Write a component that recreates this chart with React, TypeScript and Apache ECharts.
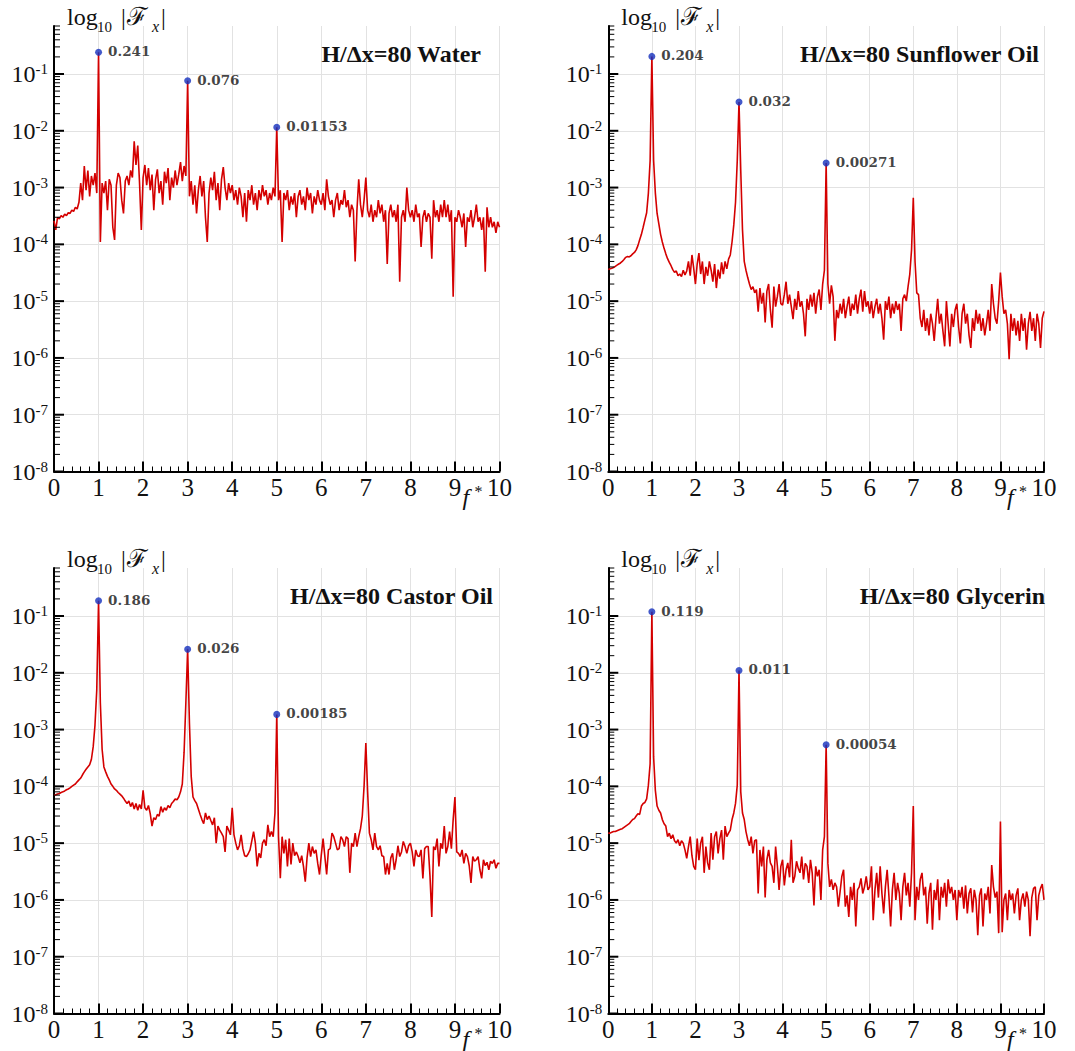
import React, { useEffect, useRef } from 'react';
import * as echarts from 'echarts';

// Spectra sampled every FREQ_STEP in f*, from 0 to 10 (251 samples each, 25 per unit row)
const FREQ_STEP = 0.04;

const WATER = [
  2.6e-4, 1.8e-4, 3e-4, 2.8e-4, 3.2e-4, 3e-4, 3.4e-4, 3.2e-4, 3.6e-4, 3.5e-4, 4e-4, 3.8e-4, 4.5e-4, 4.2e-4, 5.5e-4, 1.2e-3, 6e-4, 2.4e-3, 9e-4, 2e-3, 7e-4, 1.6e-3, 1.1e-3, 1.8e-3, 8e-4,
  0.241, 1.1e-4, 1.2e-3, 8e-4, 1.3e-3, 4e-4, 1.4e-3, 1.1e-3, 2e-4, 1.2e-4, 1.1e-3, 1.8e-3, 1.5e-3, 6e-4, 3.5e-4, 1.3e-3, 1.6e-3, 1.1e-3, 2e-3, 1.5e-3, 6.5e-3, 2.5e-3, 5.5e-3, 1.2e-3, 1.8e-4,
  1.5e-3, 2.5e-3, 1.1e-3, 2.2e-3, 9e-4, 1.7e-3, 4e-4, 1.4e-3, 2.1e-3, 8e-4, 1.3e-3, 5e-4, 1.9e-3, 1.2e-3, 2.2e-3, 6e-4, 1.5e-3, 1e-3, 2e-3, 1.1e-3, 1.7e-3, 2.8e-3, 1.3e-3, 2.4e-3, 1.6e-3,
  0.076, 7e-4, 1.3e-3, 5e-4, 1.1e-3, 3.5e-4, 9e-4, 1.6e-3, 7e-4, 1.3e-3, 3e-4, 1.1e-4, 8e-4, 1.5e-3, 9e-4, 1.9e-3, 6e-4, 1.2e-3, 4e-4, 1.4e-3, 2.3e-3, 1e-3, 6e-4, 1.2e-3, 8e-4,
  1.1e-3, 6e-4, 9e-4, 5e-4, 1e-3, 7e-4, 3e-4, 8e-4, 2.5e-4, 9e-4, 6e-4, 1.1e-3, 5e-4, 8e-4, 4e-4, 9e-4, 6e-4, 1.1e-3, 7e-4, 9e-4, 5e-4, 8e-4, 6e-4, 1e-3, 7e-4,
  0.01153, 6e-4, 9e-4, 1.1e-4, 8e-4, 6e-4, 9e-4, 4e-4, 7e-4, 5e-4, 8e-4, 3e-4, 7e-4, 9e-4, 5e-4, 7e-4, 4e-4, 1e-3, 6e-4, 8e-4, 3.5e-4, 7e-4, 5e-4, 9e-4, 6e-4,
  5e-4, 8e-4, 4e-4, 1.4e-3, 7e-4, 5e-4, 6e-4, 3e-4, 6e-4, 8e-4, 4e-4, 6e-4, 5e-4, 9e-4, 4.5e-4, 6e-4, 3e-4, 5e-4, 4e-4, 5e-5, 4e-4, 1.4e-3, 5e-4, 3e-4, 6e-4,
  1.5e-3, 4e-4, 3e-4, 5e-4, 2.5e-4, 4e-4, 3e-4, 6e-4, 3.5e-4, 5e-4, 2.5e-4, 4e-4, 4.5e-5, 3.5e-4, 5e-4, 3e-4, 4e-4, 2.5e-4, 5e-4, 2.2e-5, 3e-4, 4e-4, 2.5e-4, 1e-3, 4e-4,
  3e-4, 4e-4, 2.5e-4, 5e-4, 3e-4, 3.5e-4, 9e-5, 3e-4, 4e-4, 2.5e-4, 3.5e-4, 3e-4, 5.6e-5, 6e-4, 3e-4, 4e-4, 2.5e-4, 5e-4, 3e-4, 6e-4, 3e-4, 5e-4, 2.5e-4, 4e-4, 1.2e-5,
  3e-4, 2.5e-4, 4e-4, 3e-4, 2e-4, 3.5e-4, 9e-5, 3e-4, 2.5e-4, 4e-4, 2e-4, 3e-4, 5e-4, 2.5e-4, 3e-4, 1.8e-4, 3e-4, 3.3e-5, 4.5e-4, 2e-4, 3e-4, 2e-4, 2.5e-4, 1.6e-4, 2.5e-4,
  2e-4,
];

const SUNFLOWER = [
  3.6e-5, 3.7e-5, 3.8e-5, 3.9e-5, 4.1e-5, 4.3e-5, 4.5e-5, 4.7e-5, 5e-5, 5.4e-5, 5.9e-5, 6.1e-5, 6e-5, 6.3e-5, 6.8e-5, 7.2e-5, 8e-5, 9.5e-5, 1.2e-4, 1.5e-4, 2e-4, 2.7e-4, 3.6e-4, 8e-4, 3e-3,
  0.204, 3e-3, 8e-4, 3.5e-4, 2.3e-4, 1.5e-4, 1.1e-4, 8.5e-5, 6.8e-5, 5.6e-5, 4.8e-5, 4.2e-5, 3.6e-5, 3.2e-5, 3.4e-5, 2.8e-5, 3e-5, 2.7e-5, 3.5e-5, 2.9e-5, 3.4e-5, 5e-5, 2.8e-5, 6.5e-5, 3.8e-5,
  2e-5, 4.5e-5, 7e-5, 3e-5, 5e-5, 2e-5, 4e-5, 2.8e-5, 5e-5, 3.5e-5, 2.2e-5, 4.5e-5, 1.7e-5, 3.6e-5, 2.5e-5, 4.8e-5, 3e-5, 5e-5, 3.7e-5, 5.5e-5, 6.5e-5, 1.1e-4, 2.2e-4, 5.5e-4, 3e-3,
  0.032, 2e-3, 1.8e-4, 5e-5, 3.5e-5, 2.6e-5, 2e-5, 1.6e-5, 1.8e-5, 1.4e-5, 1.6e-5, 6.5e-6, 1.7e-5, 9e-6, 1.4e-5, 4.2e-6, 1.5e-5, 2e-5, 7e-6, 3.4e-6, 1.8e-5, 8e-6, 1.2e-5, 2e-5, 9e-6,
  8.5e-6, 1.3e-5, 2.2e-5, 9e-6, 1.3e-5, 8e-6, 4.8e-6, 1.1e-5, 7e-6, 1.5e-5, 8e-6, 1e-5, 6e-6, 2.4e-6, 1.1e-5, 7e-6, 1.3e-5, 8e-6, 1.4e-5, 6e-6, 1.2e-5, 1.6e-5, 7e-6, 2e-5, 3.5e-5,
  0.00271, 2e-5, 9e-6, 1.9e-5, 1.2e-5, 2e-6, 7e-6, 5e-6, 9e-6, 6e-6, 1.1e-5, 5e-6, 8e-6, 1.2e-5, 5.5e-6, 9e-6, 7e-6, 1.3e-5, 6e-6, 1.1e-5, 1.6e-5, 6.5e-6, 1.5e-5, 8e-6, 1e-5,
  6e-6, 1e-5, 5e-6, 8e-6, 1.1e-5, 6e-6, 9e-6, 5e-6, 2.1e-6, 1e-5, 7e-6, 1.2e-5, 5e-6, 9e-6, 6e-6, 1e-5, 7e-6, 9e-6, 3e-6, 1.1e-5, 1.3e-5, 1e-5, 1.8e-5, 3e-5, 8e-5,
  6.6e-4, 5e-5, 1.4e-5, 1.3e-5, 5e-6, 3.5e-6, 7e-6, 3e-6, 5e-6, 2.5e-6, 6e-6, 4e-6, 2e-6, 5e-6, 1.1e-5, 4e-6, 6e-6, 3e-6, 1.6e-6, 1e-5, 4e-6, 1.6e-6, 6e-6, 3.5e-6, 7e-6,
  9e-6, 3.5e-6, 1.8e-6, 6e-6, 9e-6, 4e-6, 6e-6, 2.5e-6, 1.5e-6, 5e-6, 3e-6, 7e-6, 4e-6, 6e-6, 3e-6, 5e-6, 2.5e-6, 4e-6, 7e-6, 3e-6, 2e-5, 9e-6, 5e-6, 4e-6, 1e-5,
  3.2e-5, 1.2e-5, 6e-6, 7e-6, 4e-6, 9.5e-7, 6e-6, 3e-6, 5e-6, 2.5e-6, 4.5e-6, 2e-6, 6e-6, 3e-6, 5e-6, 1.4e-6, 4e-6, 6.5e-6, 3e-6, 5e-6, 2e-6, 6e-6, 4e-6, 1.5e-6, 5e-6,
  6.6e-6,
];

const CASTOR = [
  7e-5, 7.1e-5, 7.3e-5, 7.5e-5, 7.8e-5, 8e-5, 8.3e-5, 8.7e-5, 9e-5, 9.4e-5, 1e-4, 1.05e-4, 1.1e-4, 1.2e-4, 1.3e-4, 1.4e-4, 1.6e-4, 1.8e-4, 2e-4, 2.2e-4, 2.4e-4, 3e-4, 5e-4, 1.2e-3, 5e-3,
  0.186, 3e-3, 4.5e-4, 2.2e-4, 1.8e-4, 1.5e-4, 1.3e-4, 1.1e-4, 1e-4, 9e-5, 8.5e-5, 7.8e-5, 7.3e-5, 6.8e-5, 6.2e-5, 5.5e-5, 5e-5, 5.5e-5, 4.4e-5, 5.2e-5, 4e-5, 5e-5, 3.8e-5, 4.8e-5, 4e-5,
  8.5e-5, 4.2e-5, 3.8e-5, 4.6e-5, 3.3e-5, 2e-5, 2.8e-5, 2.6e-5, 3.2e-5, 3e-5, 4.4e-5, 3.5e-5, 4.2e-5, 3.8e-5, 4.6e-5, 4.2e-5, 5e-5, 5.4e-5, 6e-5, 5.8e-5, 6.5e-5, 8e-5, 1.1e-4, 4e-4, 3e-3,
  0.026, 1.3e-3, 1.5e-4, 6.5e-5, 5.6e-5, 5e-5, 4e-5, 3.2e-5, 2.6e-5, 2.2e-5, 3.4e-5, 2.6e-5, 3e-5, 2.5e-5, 2.1e-5, 2.8e-5, 1e-5, 2e-5, 1.7e-5, 1.5e-5, 1.3e-5, 7e-6, 2e-5, 1.7e-5, 1.4e-5,
  4.2e-5, 1.4e-5, 1e-5, 7.6e-6, 9e-6, 1.4e-5, 8e-6, 6e-6, 5.8e-6, 6.5e-6, 7.6e-6, 1.1e-5, 1.6e-5, 1e-5, 3.9e-6, 6.6e-6, 5.5e-6, 1e-5, 1.15e-5, 9e-6, 2.1e-5, 1.3e-5, 1.6e-5, 1.3e-5, 3.4e-5,
  0.00185, 1.3e-5, 2.4e-6, 1.3e-5, 6.6e-6, 1.15e-5, 3.9e-6, 1.2e-5, 4.2e-6, 1e-5, 6e-6, 7e-6, 5.8e-6, 4.5e-6, 6e-6, 3.9e-6, 2.1e-6, 5.5e-6, 1e-5, 5.8e-6, 8.7e-6, 6.6e-6, 7.6e-6, 4.4e-6, 2.8e-6,
  6.2e-6, 1.2e-5, 5.8e-6, 2.8e-6, 7.6e-6, 8e-6, 1.5e-5, 1.3e-5, 1e-5, 7.6e-6, 8e-6, 1.3e-5, 1.15e-5, 8.7e-6, 1.3e-5, 1.2e-5, 3e-6, 1e-5, 8.7e-6, 1.5e-5, 8.7e-6, 1.3e-5, 1.8e-5, 3e-5, 1e-4,
  5.8e-4, 8e-5, 1.5e-5, 1.15e-5, 7.6e-6, 1.5e-5, 8.7e-6, 7.6e-6, 9e-6, 6e-6, 5.8e-6, 2.8e-6, 4.4e-6, 2.8e-6, 5.5e-6, 6.6e-6, 3.4e-6, 5.1e-6, 9e-6, 5.8e-6, 7e-6, 1.07e-5, 8.7e-6, 6.6e-6, 9e-6,
  1e-5, 7e-6, 3.9e-6, 7.6e-6, 6e-6, 5.8e-6, 7.6e-6, 2.4e-6, 8e-6, 8.7e-6, 8.7e-6, 2.6e-6, 5e-7, 8.7e-6, 7.6e-6, 1.2e-5, 3.9e-6, 1e-5, 8e-6, 2e-5, 6.6e-6, 8.7e-6, 1.6e-5, 8e-6, 2.6e-5,
  6.5e-5, 7e-6, 6.6e-6, 5.8e-6, 7.6e-6, 4.4e-6, 6.6e-6, 5.8e-6, 4e-6, 2e-6, 5.8e-6, 4.8e-6, 5.1e-6, 5.8e-6, 3.4e-6, 2.4e-6, 5.1e-6, 4e-6, 4.6e-6, 3.4e-6, 4.8e-6, 4.4e-6, 5.1e-6, 3.6e-6, 4.4e-6,
  4.4e-6,
];

const GLYCERIN = [
  1.5e-5, 1.5e-5, 1.55e-5, 1.6e-5, 1.6e-5, 1.65e-5, 1.7e-5, 1.75e-5, 1.8e-5, 1.9e-5, 2e-5, 2.1e-5, 2.2e-5, 2.4e-5, 2.6e-5, 2.7e-5, 3e-5, 3.3e-5, 3.2e-5, 4.5e-5, 5e-5, 5.2e-5, 6e-5, 1.05e-4, 2.5e-4,
  0.119, 3.3e-4, 8.5e-5, 4.5e-5, 3.8e-5, 3.4e-5, 2.6e-5, 2.2e-5, 2e-5, 1.3e-5, 1.5e-5, 1.2e-5, 1.4e-5, 1.1e-5, 1e-5, 1.15e-5, 9e-6, 1.1e-5, 1e-5, 7.6e-6, 5.4e-6, 8.7e-6, 1.3e-5, 6e-6, 3.9e-6,
  3.4e-6, 1.2e-5, 5e-6, 1e-5, 1.3e-5, 3e-6, 8.7e-6, 4.5e-6, 3.4e-6, 1.5e-5, 5.1e-6, 1.3e-5, 1.6e-5, 6.6e-6, 1.2e-5, 1.7e-5, 5.1e-6, 2e-5, 1.3e-5, 1.5e-5, 1.7e-5, 2.6e-5, 3.4e-5, 5e-5, 1.05e-4,
  0.011, 8e-5, 3.4e-5, 2.6e-5, 1.6e-5, 1.15e-5, 9e-6, 1.3e-5, 6.6e-6, 1.1e-5, 1.15e-5, 1.3e-6, 7.6e-6, 3.9e-6, 8.7e-6, 1.1e-6, 5.1e-6, 7.6e-6, 4.5e-6, 3.9e-6, 2e-6, 8.7e-6, 4e-6, 1.5e-6, 3.9e-6,
  5.1e-6, 1.8e-6, 3.4e-6, 4.5e-6, 2.5e-6, 1.15e-5, 2e-6, 2.6e-6, 4.8e-6, 3.6e-6, 3e-6, 5.8e-6, 2.3e-6, 4.4e-6, 3.9e-6, 2e-6, 5.1e-6, 3e-6, 8e-7, 3.9e-6, 2.6e-6, 3.4e-6, 1e-6, 7.6e-6, 1.3e-5,
  0.00054, 4.4e-6, 1.7e-6, 2.3e-6, 1.5e-6, 2e-6, 1.7e-6, 7.6e-7, 1.4e-6, 2.6e-6, 3.4e-6, 7.6e-7, 1.2e-6, 5e-7, 1.7e-6, 1e-6, 2e-6, 3.4e-7, 1.5e-6, 1.7e-6, 2.4e-6, 1.3e-6, 1.7e-6, 2.6e-6, 1.5e-6,
  1.7e-6, 3.9e-6, 4.4e-7, 1.5e-6, 3e-6, 1.1e-6, 3.9e-6, 1.3e-6, 5.8e-7, 1.7e-6, 3.4e-6, 1.2e-6, 3.4e-7, 1.5e-6, 3e-6, 1e-6, 2e-6, 1.3e-6, 4.4e-7, 1.7e-6, 3e-6, 1.2e-6, 2e-6, 7.6e-7, 3e-6,
  4.5e-5, 4.4e-7, 1.7e-6, 1e-6, 2.3e-6, 3e-6, 1.2e-6, 1.7e-6, 3.8e-7, 1.3e-6, 2e-6, 3e-7, 1.5e-6, 1e-6, 2.3e-6, 4.4e-7, 1.7e-6, 1.1e-6, 2e-6, 7.6e-7, 2.3e-6, 1.3e-6, 1.7e-6, 1e-6, 1.5e-6,
  4.4e-7, 1.5e-6, 1.1e-6, 1.7e-6, 7e-7, 1.8e-6, 5.8e-7, 1.3e-6, 1.6e-6, 6e-7, 1.5e-6, 1e-6, 2.4e-7, 1.2e-6, 1.6e-6, 3.4e-7, 1.3e-6, 1e-6, 1.7e-6, 5.8e-7, 4.1e-6, 1.7e-6, 1.1e-6, 1.4e-6, 2.6e-7,
  2.4e-5, 2.7e-7, 1e-6, 1.3e-6, 4.4e-7, 1.5e-6, 1e-6, 1.3e-6, 5.8e-7, 1.2e-6, 1.6e-6, 4.4e-7, 1e-6, 1.3e-6, 7.6e-7, 1.4e-6, 1e-6, 2.3e-7, 1.1e-6, 1.6e-6, 1.7e-6, 4.4e-7, 1.2e-6, 1.6e-6, 1.9e-6,
  1e-6,
];

// Labelled peaks (f* = 1, 3, 5)
const PEAK_X = [1, 3, 5];
const WATER_PEAKS = [0.241, 0.076, 0.01153];
const SUNFLOWER_PEAKS = [0.204, 0.032, 0.00271];
const CASTOR_PEAKS = [0.186, 0.026, 0.00185];
const GLYCERIN_PEAKS = [0.119, 0.011, 0.00054];

const TITLES = ['H/Δx=80 Water', 'H/Δx=80 Sunflower Oil', 'H/Δx=80 Castor Oil', 'H/Δx=80 Glycerin'];

// Axes
const X_MIN = 0;
const X_MAX = 10;
const X_INTERVAL = 1;
const Y_MIN = 1e-8;
const Y_MAX = 0.7;
const Y_DECADE_EXPONENTS = [-8, -7, -6, -5, -4, -3, -2, -1];
const Y_MINOR_MULTIPLIERS = [2, 3, 4, 5, 6, 7, 8, 9];

// Layout (pixels)
const LAYOUT = [
  { left: 54, top: 26, width: 445.5, height: 445.5, titleRight: 481, titleY: 54 },
  { left: 608.3, top: 26, width: 435.7, height: 445.5, titleRight: 1039, titleY: 54 },
  { left: 54, top: 568, width: 445.5, height: 445.5, titleRight: 493, titleY: 596 },
  { left: 608.3, top: 568, width: 435.7, height: 445.5, titleRight: 1045, titleY: 596 },
];

const SPECTRA = [WATER, SUNFLOWER, CASTOR, GLYCERIN];
const PEAKS = [WATER_PEAKS, SUNFLOWER_PEAKS, CASTOR_PEAKS, GLYCERIN_PEAKS];

const SERIF = '"Liberation Serif", "Times New Roman", serif';
const RED = '#d40000';
const BLUE = '#1430bd';
const INK = '#111111';

function yLabel(v: number): string {
  const lg = Math.log10(v);
  const e = Math.round(lg);
  if (Math.abs(lg - e) > 1e-6) return '';
  return `{b|10}{e|${e}}`;
}

export default function App() {
  const ref = useRef<HTMLDivElement>(null);

  useEffect(() => {
    if (!ref.current) return;
    const chart = echarts.init(ref.current, null, { renderer: 'svg' });

    const grids = LAYOUT.map((l) => ({ left: l.left, top: l.top, width: l.width, height: l.height, containLabel: false }));

    const xAxes = LAYOUT.map((_, i) => ({
      type: 'value',
      gridIndex: i,
      min: X_MIN,
      max: X_MAX,
      interval: X_INTERVAL,
      axisLine: { show: true, onZero: false, lineStyle: { color: '#000', width: 2 } },
      axisTick: { show: true, inside: true, length: 10, lineStyle: { color: '#000', width: 2 } },
      minorTick: { show: true, splitNumber: 5, length: 5, lineStyle: { color: '#000', width: 1 } },
      axisLabel: { show: true, margin: 3, fontFamily: SERIF, fontSize: 25, color: INK },
      splitLine: { show: true, lineStyle: { color: '#e2e2e2', width: 1 } },
    }));

    const yAxes = LAYOUT.map((_, i) => ({
      type: 'log',
      logBase: 10,
      gridIndex: i,
      min: Y_MIN,
      max: Y_MAX,
      splitNumber: 8,
      axisLine: { show: true, onZero: false, lineStyle: { color: '#000', width: 2 } },
      axisTick: { show: false },
      axisLabel: {
        show: true,
        margin: 6,
        showMaxLabel: false,
        formatter: yLabel,
        rich: {
          b: { fontFamily: SERIF, fontSize: 24, lineHeight: 24, color: INK },
          e: { fontFamily: SERIF, fontSize: 15, lineHeight: 15, color: INK, padding: [0, 0, 10, 0] },
        },
      },
      splitLine: { show: true, showMaxLine: false, lineStyle: { color: '#e2e2e2', width: 1 } },
    }));

    const series: any[] = [];
    SPECTRA.forEach((values, i) => {
      series.push({
        type: 'line',
        xAxisIndex: i,
        yAxisIndex: i,
        data: values.map((v, k) => [Number((k * FREQ_STEP).toFixed(2)), v]),
        showSymbol: false,
        symbol: 'none',
        lineStyle: { color: RED, width: 1.6 },
        z: 2,
      });
      series.push({
        type: 'scatter',
        xAxisIndex: i,
        yAxisIndex: i,
        data: PEAK_X.map((x, j) => [x, PEAKS[i][j]]),
        symbol: 'circle',
        symbolSize: 7,
        itemStyle: { color: BLUE },
        z: 5,
        label: {
          show: true,
          position: 'right',
          distance: 6,
          offset: [0, -1],
          formatter: (p: any) => String(p.value[1]),
          fontFamily: '"DejaVu Serif", serif',
          fontWeight: 'bold',
          fontSize: 13.5,
          color: INK,
        },
      });
    });

    chart.setOption({
      animation: false,
      backgroundColor: '#ffffff',
      grid: grids,
      xAxis: xAxes,
      yAxis: yAxes,
      series,
    });

    // Graphic overlay: log-axis ticks, axis names, titles (positions from the library's scales)
    const graphics: any[] = [];
    LAYOUT.forEach((l, i) => {
      const toPx = (x: number, y: number) => chart.convertToPixel({ gridIndex: i }, [x, y]) as number[];
      const [ax, axisBottom] = toPx(X_MIN, Y_MIN);
      const [xEnd] = toPx(X_MAX, Y_MIN);
      const [, yTop] = toPx(X_MIN, Y_MAX);

      Y_DECADE_EXPONENTS.forEach((e) => {
        const [, py] = toPx(X_MIN, Math.pow(10, e));
        graphics.push({
          type: 'line', silent: true, z: 100,
          shape: { x1: ax, y1: py, x2: ax + 10, y2: py },
          style: { stroke: '#000', lineWidth: 2 },
        });
        Y_MINOR_MULTIPLIERS.forEach((m) => {
          const v = m * Math.pow(10, e);
          if (v > Y_MAX + 1e-12) return;
          const [, my] = toPx(X_MIN, v);
          graphics.push({
            type: 'line', silent: true, z: 100,
            shape: { x1: ax, y1: my, x2: ax + 6, y2: my },
            style: { stroke: '#000', lineWidth: 1 },
          });
        });
      });

      // y axis name: log10 |F_x|
      const nameParts = [
        { text: 'log', dx: 13, dy: -9, size: 24, style: 'normal' },
        { text: '10', dx: 43, dy: 1, size: 15, style: 'normal' },
        { text: '|', dx: 67, dy: -9, size: 24, style: 'normal' },
        { text: 'ℱ', dx: 73, dy: -10, size: 25, style: 'normal' },
        { text: 'x', dx: 98, dy: 0, size: 16, style: 'italic' },
        { text: '|', dx: 107, dy: -9, size: 24, style: 'normal' },
      ];
      nameParts.forEach((p) => {
        graphics.push({
          type: 'text', silent: true, z: 100,
          x: ax + p.dx, y: yTop + p.dy,
          style: {
            text: p.text, fill: INK, fontFamily: SERIF, fontSize: p.size, fontStyle: p.style,
            textAlign: 'left', textVerticalAlign: 'middle', align: 'left', verticalAlign: 'middle',
          },
        });
      });

      // x axis name: f*
      graphics.push({
        type: 'text', silent: true, z: 100,
        x: xEnd - 37, y: axisBottom + 25,
        style: {
          text: 'f', fill: INK, fontFamily: SERIF, fontSize: 24, fontStyle: 'italic',
          textAlign: 'left', textVerticalAlign: 'middle', align: 'left', verticalAlign: 'middle',
        },
      });
      graphics.push({
        type: 'text', silent: true, z: 100,
        x: xEnd - 25, y: axisBottom + 20,
        style: {
          text: '*', fill: INK, fontFamily: SERIF, fontSize: 16,
          textAlign: 'left', textVerticalAlign: 'middle', align: 'left', verticalAlign: 'middle',
        },
      });

      // Title
      graphics.push({
        type: 'text', silent: true, z: 100,
        x: l.titleRight, y: l.titleY,
        style: {
          text: TITLES[i], fill: INK, fontFamily: SERIF, fontSize: 24, fontWeight: 'bold',
          textAlign: 'right', textVerticalAlign: 'middle', align: 'right', verticalAlign: 'middle',
        },
      });
    });

    chart.setOption({ graphic: graphics });

    return () => {
      chart.dispose();
    };
  }, []);

  return (
    <div
      ref={ref}
      style={{ position: 'absolute', left: 0, top: 0, width: 1075, height: 1051, background: '#fff' }}
    />
  );
}
